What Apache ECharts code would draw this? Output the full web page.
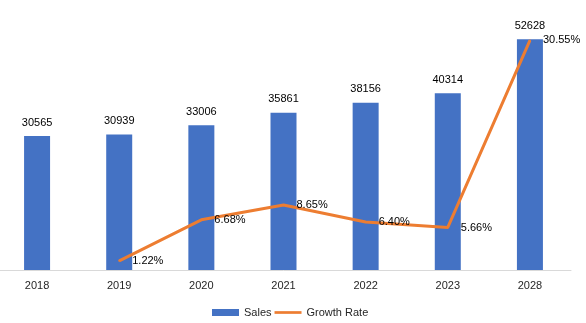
<!DOCTYPE html>
<html><head><meta charset="utf-8">
<script src="https://cdn.jsdelivr.net/npm/echarts@6/dist/echarts.min.js"></script>
<style>html,body{margin:0;padding:0;background:#fff;overflow:hidden}#c{position:relative;left:-4px;width:590px;height:323px}</style>
</head><body><div id="c"></div>
<script>
const categories = ['2018','2019','2020','2021','2022','2023','2028'];
const sales = [30565, 30939, 33006, 35861, 38156, 40314, 52628];
const growthRate = [null, 1.22, 6.68, 8.65, 6.40, 5.66, 30.55];

const chart = echarts.init(document.getElementById('c'));
const font = 'Liberation Sans';
chart.setOption({
  animation: false,
  textStyle: { fontFamily: font },
  grid: { left: 0, right: 15, top: 7, bottom: 53, containLabel: false },
  legend: {
    bottom: 0, left: 211,
    itemWidth: 27, itemHeight: 7, itemGap: 3,
    textStyle: { fontSize: 11, color: '#262626', fontFamily: font },
    data: [
      { name: 'Sales', icon: 'rect' },
      { name: 'Growth Rate', icon: 'path://M0,0H30V3H0Z' }
    ]
  },
  xAxis: {
    type: 'category', data: categories,
    axisLine: { lineStyle: { color: '#d9d9d9', width: 1 } },
    axisTick: { show: false },
    axisLabel: { fontSize: 11, color: '#262626', margin: 10, fontFamily: font }
  },
  yAxis: [
    { type: 'value', min: 0, max: 60000, show: false, splitLine: { show: false } },
    { type: 'value', min: 0, max: 35, show: false, splitLine: { show: false } }
  ],
  series: [
    {
      name: 'Sales', type: 'bar', data: sales, barWidth: 26,
      itemStyle: { color: '#4472C4' },
      label: { show: true, position: 'top', distance: 8, fontSize: 11, color: '#000', fontFamily: font }
    },
    {
      name: 'Growth Rate', type: 'line', yAxisIndex: 1, data: growthRate,
      symbol: 'circle', symbolSize: 2, showSymbol: true,
      itemStyle: { color: '#ED7D31' },
      lineStyle: { color: '#ED7D31', width: 3 },
      connectNulls: false,
      label: { show: true, position: 'right', distance: 12, fontSize: 11, color: '#000', fontFamily: font,
        formatter: p => p.value == null ? '' : p.value.toFixed(2) + '%' }
    }
  ]
});
</script></body></html>
